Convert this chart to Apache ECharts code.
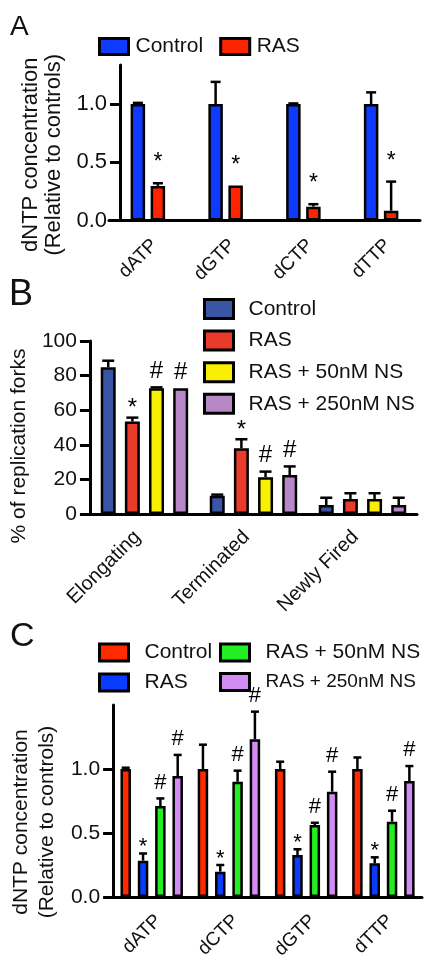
<!DOCTYPE html>
<html><head><meta charset="utf-8">
<script src="https://cdn.jsdelivr.net/npm/echarts@6/dist/echarts.min.js"></script>
<style>html,body{margin:0;padding:0;background:#fff}#c{width:430px;height:967px}</style>
</head><body><div id="c"></div>
<script>
// ---------- Panel A ----------
const catsA = ['dATP', 'dGTP', 'dCTP', 'dTTP'];
const seriesNamesA = ['Control', 'RAS'];
const meanA_control = [1.0, 1.0, 1.0, 1.0];
const errA_control  = [1.01, 1.19, 1.005, 1.10];
const meanA_ras     = [0.297, 0.30, 0.119, 0.084];
const errA_ras      = [0.32, 0.30, 0.14, 0.334];
const markA_control = ['', '', '', ''];
const markA_ras     = ['*', '*', '*', '*'];
const ticksA = [0, 0.5, 1.0];

// ---------- Panel B ----------
const catsB = ['Elongating', 'Terminated', 'Newly Fired'];
const seriesNamesB = ['Control', 'RAS', 'RAS + 50nM NS', 'RAS + 250nM NS'];
const meanB_control = [84.8, 10.6, 5.2];
const errB_control  = [88.6, 11.2, 9.4];
const meanB_ras     = [53.4, 38.0, 8.7];
const errB_ras      = [55.7, 43.2, 12.0];
const meanB_ns50    = [72.7, 21.2, 8.7];
const errB_ns50     = [73.2, 24.5, 12.0];
const meanB_ns250   = [72.7, 22.5, 5.2];
const errB_ns250    = [72.7, 27.5, 9.4];
const markB_control = ['', '', ''];
const markB_ras     = ['*', '*', ''];
const markB_ns50    = ['#', '#', ''];
const markB_ns250   = ['#', '#', ''];
const ticksB = [0, 20, 40, 60, 80, 100];

// ---------- Panel C ----------
const catsC = ['dATP', 'dCTP', 'dGTP', 'dTTP'];
const seriesNamesC = ['Control', 'RAS', 'RAS + 50nM NS', 'RAS + 250nM NS'];
const meanC_control = [1.0, 1.0, 1.0, 1.0];
const errC_control  = [1.01, 1.19, 1.057, 1.09];
const meanC_ras     = [0.284, 0.198, 0.328, 0.263];
const errC_ras      = [0.34, 0.25, 0.373, 0.31];
const meanC_ns50    = [0.71, 0.90, 0.5625, 0.588];
const errC_ns50     = [0.77, 0.987, 0.58, 0.674];
const meanC_ns250   = [0.945, 1.232, 0.823, 0.906];
const errC_ns250    = [1.11, 1.448, 0.979, 1.023];
const markC_control = ['', '', '', ''];
const markC_ras     = ['*', '*', '*', '*'];
const markC_ns50    = ['#', '#', '#', '#'];
const markC_ns250   = ['#', '#', '#', '#'];
const ticksC = [0, 0.5, 1.0];

const FONT = '"Liberation Sans", Arial, Helvetica, sans-serif';
const TXT = '#111';

const panels = [
  { id: 'A', cats: catsA, names: seriesNamesA,
    colors: ['#0f3bff', '#ff2400'],
    means: [meanA_control, meanA_ras], errs: [errA_control, errA_ras], marks: [markA_control, markA_ras],
    ticks: ticksA, max: 1.335, fmt: v => v.toFixed(1),
    grid: { left: 109, top: 65, width: 311, height: 155.5 }, yOffset: -11,
    bw: 14.5, gapRatio: 0.38, cap: 10, labelFS: 22, xFS: 19, xMargin: 15, xVA: 'top',
    markFS: 23, markGap: { '*': 26, '#': 16 },
    yName: 'dNTP concentration\n(Relative to controls)', nameFS: 22, nameGap: 39, nameLH: 23, namePad: [0, 24, 0, 0] },
  { id: 'B', cats: catsB, names: seriesNamesB,
    colors: ['#3a55a5', '#e93a2a', '#f8f000', '#b887c5'],
    means: [meanB_control, meanB_ras, meanB_ns50, meanB_ns250], errs: [errB_control, errB_ras, errB_ns50, errB_ns250],
    marks: [markB_control, markB_ras, markB_ns50, markB_ns250],
    ticks: ticksB, max: 100, fmt: v => String(v),
    grid: { left: 73, top: 341, width: 344, height: 173 }, yOffset: 0,
    bw: 15, gapRatio: 0.61, cap: 12, labelFS: 21, xFS: 20, xMargin: 27, xVA: 'bottom',
    markFS: 24, markGap: { '*': 15, '#': 16 },
    yName: '% of replication forks', nameFS: 21, nameGap: 45, nameLH: 23, namePad: [0, 37, 0, 0] },
  { id: 'C', cats: catsC, names: seriesNamesC,
    colors: ['#ff2a00', '#0a3cff', '#22ee22', '#d48cf5'],
    means: [meanC_control, meanC_ras, meanC_ns50, meanC_ns250], errs: [errC_control, errC_ras, errC_ns50, errC_ns250],
    marks: [markC_control, markC_ras, markC_ns50, markC_ns250],
    ticks: ticksC, max: 1.5, fmt: v => v.toFixed(1),
    grid: { left: 109, top: 705, width: 313, height: 192 }, yOffset: 0,
    bw: 10.5, gapRatio: 0.65, cap: 8, labelFS: 21, xFS: 19, xMargin: 14, xVA: 'top',
    markFS: 22, markGap: { '*': 12, '#': 16 },
    yName: 'dNTP concentration\n(Relative to controls)', nameFS: 21, nameGap: 34, nameLH: 26, namePad: [0, 42, 0, 0] }
];

const grids = [], xAxes = [], yAxes = [], series = [];
panels.forEach((p, pi) => {
  grids.push(Object.assign({ containLabel: false }, p.grid));
  xAxes.push({
    type: 'category', gridIndex: pi, data: p.cats,
    axisLine: { lineStyle: { color: '#000', width: 3 } },
    axisTick: { alignWithLabel: true, length: 9, lineStyle: { color: '#000', width: 3 } },
    axisLabel: { rotate: 45, fontSize: p.xFS, fontFamily: FONT, color: TXT, margin: p.xMargin, verticalAlign: p.xVA, interval: 0 },
    splitLine: { show: false }
  });
  yAxes.push({
    type: 'value', gridIndex: pi, min: 0, max: p.max, offset: p.yOffset,
    axisLine: { show: true, lineStyle: { color: '#000', width: 3 } },
    axisTick: { show: true, length: 10, customValues: p.ticks, lineStyle: { color: '#000', width: 3 } },
    axisLabel: { customValues: p.ticks, formatter: p.fmt, fontSize: p.labelFS, fontFamily: FONT, color: TXT, margin: 13 },
    splitLine: { show: false },
    name: p.yName, nameLocation: 'middle', nameRotate: 90, nameGap: p.nameGap,
    nameTextStyle: { fontSize: p.nameFS, fontFamily: FONT, color: TXT, lineHeight: p.nameLH, padding: p.namePad }
  });
  const n = p.names.length;
  p.names.forEach((nm, k) => {
    series.push({
      type: 'bar', name: p.id + '|' + nm, xAxisIndex: pi, yAxisIndex: pi,
      data: p.means[k], barWidth: p.bw, barGap: (p.gapRatio * 100) + '%',
      itemStyle: { color: p.colors[k], borderColor: '#000', borderWidth: 2.5 },
      silent: true, z: 2
    });
  });
  const errData = [];
  p.names.forEach((nm, k) => {
    p.cats.forEach((c, ci) => errData.push([ci, k, p.means[k][ci], p.errs[k][ci]]));
  });
  const spacing = p.bw * (1 + p.gapRatio);
  series.push({
    type: 'custom', xAxisIndex: pi, yAxisIndex: pi, data: errData, silent: true, z: 3,
    encode: { x: 0, y: 3 },
    renderItem: function (params, api) {
      const ci = api.value(0), k = api.value(1), mean = api.value(2), top = api.value(3);
      const base = api.coord([ci, mean]);
      const tp = api.coord([ci, top]);
      const x = base[0] + (k - (n - 1) / 2) * spacing;
      const children = [];
      if (top > mean) {
        children.push({ type: 'line', shape: { x1: x, y1: base[1], x2: x, y2: tp[1] }, style: { stroke: '#000', lineWidth: 2.5 } });
        children.push({ type: 'line', shape: { x1: x - p.cap / 2, y1: tp[1], x2: x + p.cap / 2, y2: tp[1] }, style: { stroke: '#000', lineWidth: 2.5 } });
      }
      const mk = p.marks[k][ci];
      if (mk) {
        const yc = tp[1] - p.markGap[mk] + (mk === '*' ? 0.25 * p.markFS : 0);
        children.push({ type: 'text', x: x, y: yc, style: { text: mk, fontSize: p.markFS, fontFamily: FONT, fill: '#000', align: 'center', verticalAlign: 'middle' } });
      }
      return { type: 'group', children: children };
    }
  });
});

const legendBase = {
  orient: 'vertical', padding: 0, icon: 'rect', selectedMode: false,
  formatter: nm => nm.split('|')[1],
  itemStyle: { borderColor: '#000', borderWidth: 3 },
  textStyle: { fontSize: 21, fontFamily: FONT, color: TXT }
};
const legends = [
  Object.assign({}, legendBase, { orient: 'horizontal', left: 98, top: 36, itemWidth: 29, itemHeight: 16, itemGap: 16,
    data: seriesNamesA.map(s => 'A|' + s), textStyle: Object.assign({}, legendBase.textStyle, { padding: [0, 0, 0, 2] }) }),
  Object.assign({}, legendBase, { left: 203, top: 298, itemWidth: 29, itemHeight: 19, itemGap: 9.6,
    data: seriesNamesB.map(s => 'B|' + s), textStyle: Object.assign({}, legendBase.textStyle, { padding: [0, 0, 0, 10] }) }),
  Object.assign({}, legendBase, { left: 98, top: 642, itemWidth: 29, itemHeight: 17, itemGap: 9,
    data: ['C|' + seriesNamesC[0], 'C|' + seriesNamesC[1]], textStyle: Object.assign({}, legendBase.textStyle, { padding: [0, 0, 0, 11] }) }),
  Object.assign({}, legendBase, { left: 219, top: 642, itemWidth: 29, itemHeight: 17, itemGap: 9,
    data: [{ name: 'C|' + seriesNamesC[2] }, { name: 'C|' + seriesNamesC[3], textStyle: { fontSize: 19 } }],
    textStyle: Object.assign({}, legendBase.textStyle, { padding: [0, 0, 0, 11] }) })
];

const titles = [
  { text: 'A', left: 10, top: 13, fs: 28 },
  { text: 'B', left: 9, top: 277, fs: 36 },
  { text: 'C', left: 10, top: 620, fs: 34 }
].map(t => ({ text: t.text, left: t.left, top: t.top, padding: 0,
  textStyle: { fontSize: t.fs, fontWeight: 'normal', fontFamily: FONT, color: '#111' } }));

const chart = echarts.init(document.getElementById('c'), null, { renderer: 'canvas' });
chart.setOption({
  animation: false,
  backgroundColor: '#fff',
  title: titles,
  grid: grids, xAxis: xAxes, yAxis: yAxes, series: series, legend: legends
});
</script></body></html>
